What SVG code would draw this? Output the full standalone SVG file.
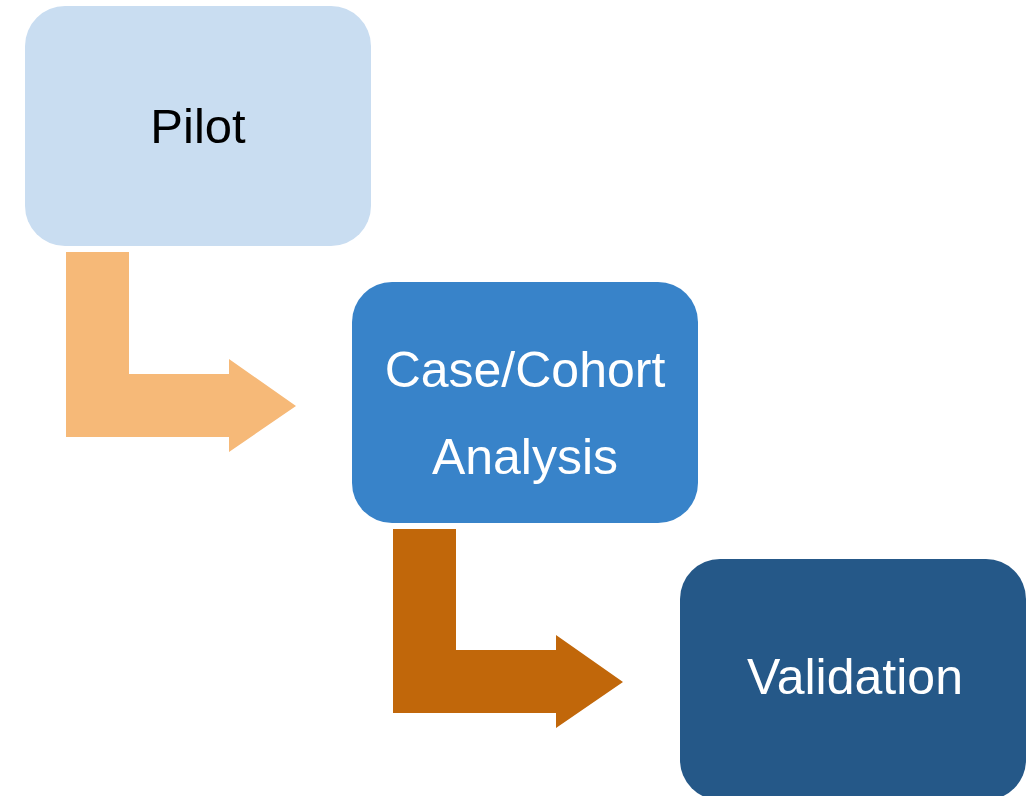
<svg xmlns="http://www.w3.org/2000/svg" width="1032" height="796" viewBox="0 0 1032 796">
<style>
.lbl{font-family:"Liberation Sans",Arial,sans-serif;font-size:50px;text-anchor:middle}
</style>
<rect width="1032" height="796" fill="#ffffff"/>
<g id="connectors">
<path d="M66,252 H129 V374 H229 V359 L296,406 L229,452 V437 H66 Z" fill="#F6B978"/>
<path d="M393,529 H456 V650 H556 V635 L623,682 L556,728 V713 H393 Z" fill="#C1670A"/>
</g>
<g id="pilot">
<rect x="25" y="6" width="346" height="240" rx="40" ry="40" fill="#C9DDF1"/>
<text class="lbl" x="198" y="143" fill="#000000" style="font-size:49px">Pilot</text>
</g>
<g id="case-cohort">
<rect x="352" y="282" width="346" height="241" rx="40" ry="40" fill="#3883C9"/>
<text class="lbl" x="525" y="387" fill="#ffffff">Case/Cohort</text>
<text class="lbl" x="525" y="474" fill="#ffffff">Analysis</text>
</g>
<g id="validation">
<rect x="680" y="559" width="346" height="241" rx="40" ry="40" fill="#255888"/>
<text class="lbl" x="855" y="694" fill="#ffffff">Validation</text>
</g>
</svg>
